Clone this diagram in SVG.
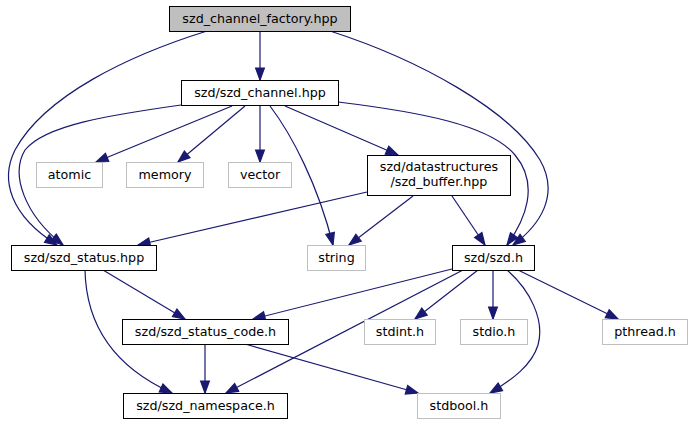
<svg xmlns="http://www.w3.org/2000/svg" width="691" height="425" viewBox="0 0 691 425">
<style>
.n rect{fill:#fff;stroke:#000;stroke-width:1}
.n.root rect{fill:#bfbfbf}
.n.ext rect{stroke:#bfbfbf}
text{font-family:"DejaVu Sans",sans-serif;font-size:12.7px;text-anchor:middle;fill:#000}
#edges path{fill:none;stroke:#191970;stroke-width:1.2;marker-end:url(#ah)}
</style>
<defs>
<marker id="ah" markerUnits="userSpaceOnUse" markerWidth="14" markerHeight="11" refX="12" refY="4.4" orient="auto" overflow="visible">
<path d="M0,0 L12,4.4 L0,8.8 z" fill="#191970" stroke="#191970" stroke-width="1.2"/>
</marker>
</defs>
<rect width="691" height="425" fill="#fff"/>
<g id="edges">
<path d="M260,31 L260,80"/>
<path d="M207,31 C130,55 45,95 15,150 C0,180 10,215 57,245"/>
<path d="M330,31 C420,60 510,110 540,160 C560,195 540,225 513,245"/>
<path d="M181,105 C110,115 45,125 25,150 C10,175 25,215 63,245"/>
<path d="M232,106 L96,162"/>
<path d="M245,106 L178,162"/>
<path d="M260,106 L260,162"/>
<path d="M270,106 C292,135 318,185 333,245"/>
<path d="M285,106 L398,155"/>
<path d="M338,102 C420,112 490,125 515,155 C540,185 525,220 507,245"/>
<path d="M367,192 L138,245"/>
<path d="M413,196 L349,245"/>
<path d="M452,196 L485,245"/>
<path d="M103,270 L185,319"/>
<path d="M85,270 C86,320 110,365 172,393"/>
<path d="M452,269 L253,319"/>
<path d="M463,270 L226,393"/>
<path d="M478,270 L415,319"/>
<path d="M493,270 L493,319"/>
<path d="M507,270 C530,290 545,320 538,345 C532,365 512,380 490,393"/>
<path d="M518,270 L618,319"/>
<path d="M205,344 L205,393"/>
<path d="M245,344 L418,393"/>
</g>
<g id="factory" class="n root"><rect x="169.5" y="6.5" width="181" height="25"/><text x="260" y="23">szd_channel_factory.hpp</text></g>
<g id="channel" class="n"><rect x="181.5" y="80.5" width="157" height="25"/><text x="260" y="97">szd/szd_channel.hpp</text></g>
<g id="status" class="n"><rect x="11.5" y="245.5" width="145" height="25"/><text x="84" y="262">szd/szd_status.hpp</text></g>
<g id="atomic" class="n ext"><rect x="36.5" y="162.5" width="66" height="25"/><text x="69.5" y="179">atomic</text></g>
<g id="memory" class="n ext"><rect x="126.5" y="162.5" width="77" height="25"/><text x="165" y="179">memory</text></g>
<g id="vector" class="n ext"><rect x="228.5" y="162.5" width="63" height="25"/><text x="260" y="179">vector</text></g>
<g id="buffer" class="n"><rect x="367.5" y="155.5" width="143" height="40"/><text x="439" y="170.5">szd/datastructures</text><text x="439" y="185.5">/szd_buffer.hpp</text></g>
<g id="string" class="n ext"><rect x="307.5" y="245.5" width="58" height="25"/><text x="336.5" y="262">string</text></g>
<g id="szdh" class="n"><rect x="452.5" y="245.5" width="82" height="25"/><text x="493.5" y="262">szd/szd.h</text></g>
<g id="statuscode" class="n"><rect x="122.5" y="319.5" width="166" height="25"/><text x="205.5" y="336">szd/szd_status_code.h</text></g>
<g id="stdint" class="n ext"><rect x="364.5" y="319.5" width="71" height="25"/><text x="400" y="336">stdint.h</text></g>
<g id="stdio" class="n ext"><rect x="460.5" y="319.5" width="67" height="25"/><text x="494" y="336">stdio.h</text></g>
<g id="pthread" class="n ext"><rect x="602.5" y="319.5" width="85" height="25"/><text x="645" y="336">pthread.h</text></g>
<g id="namespace" class="n"><rect x="123.5" y="393.5" width="164" height="25"/><text x="205.5" y="410">szd/szd_namespace.h</text></g>
<g id="stdbool" class="n ext"><rect x="417.5" y="393.5" width="83" height="25"/><text x="459" y="410">stdbool.h</text></g>
</svg>
